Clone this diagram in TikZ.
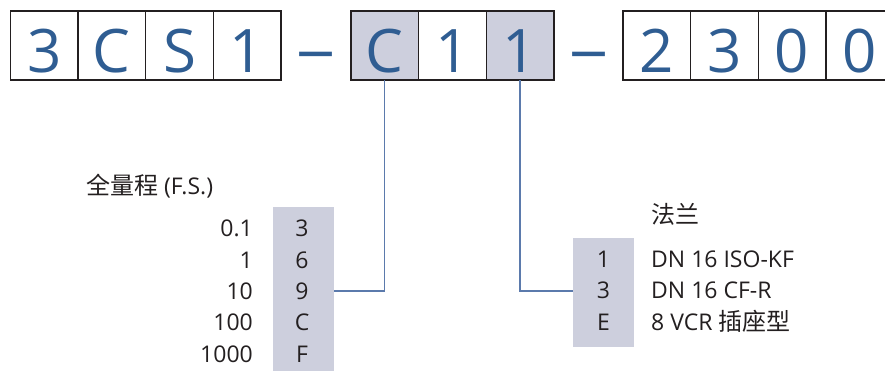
\documentclass[tikz,border=0pt]{standalone}
\usepackage{fontspec}
\setmainfont{Open Sans}
\newfontfamily\cjk{Noto Sans CJK SC}
\definecolor{codeblue}{HTML}{2F5D92}
\definecolor{cellgray}{HTML}{CDCFDD}
\definecolor{ink}{HTML}{231F20}
\definecolor{leader}{HTML}{5B7AAC}
\begin{document}
\begin{tikzpicture}[x=1pt,y=-1pt,
  cell/.style={draw=ink,line width=1.4pt,minimum width=67.6pt,minimum height=69pt,inner sep=0pt,outer sep=0pt},
  hcell/.style={cell,fill=cellgray},
  bigchar/.style={text=codeblue,font=\fontsize{60}{60}\selectfont,anchor=base,inner sep=0pt},
  tabtxt/.style={text=ink,font=\fontsize{23}{23}\selectfont,anchor=base,inner sep=0pt},
  keybox/.style={fill=cellgray,draw=none,inner sep=0pt,outer sep=0pt},
  leaderline/.style={draw=leader,line width=1.3pt}]
\useasboundingbox (0,0) rectangle (885,371);
\clip (0,0) rectangle (885,371);
% code cells
\foreach \i/\x/\c/\s in {a/44.3/3/cell,b/111.9/C/cell,c/179.5/S/cell,d/247.1/1/cell,
    e/384.8/C/hcell,f/452.4/1/cell,g/520.0/1/hcell,
    h/656.8/2/cell,k/724.4/3/cell,m/792.0/0/cell,n/859.6/0/cell}{
  \node[\s] (\i) at (\x,45.5) {};
  \node[bigchar] (t\i) at (\x,73) {\c};
}
\node[bigchar,xscale=1.3] (dash1) at (315.5,71) {–};
\node[bigchar,xscale=1.3] (dash2) at (588.5,71) {–};
% full-scale table
\node[anchor=base west,text=ink,font=\fontsize{23}{23}\selectfont,inner sep=0pt] (fstitle) at (86,195) {{\cjk\fontsize{24}{24}\selectfont 全量程} (F.S.)};
\node[keybox,minimum width=61pt,minimum height=170pt,anchor=north west] (fsbox) at (273,207) {};
\foreach \k/\v/\y in {1/0.1/236.5,2/1/268,3/10/299.3,4/100/330.6,5/1000/362}{
  \node[tabtxt,anchor=base east] (fsv\k) at (253,\y) {\v};
}
\foreach \k/\v/\y in {1/3/236.5,2/6/268,3/9/299.3,4/C/330.6,5/F/362}{
  \node[tabtxt] (fsc\k) at (302,\y) {\v};
}
% flange table
\node[anchor=base west,text=ink,font=\fontsize{24}{24}\cjk,inner sep=0pt] (fltitle) at (651,224) {法兰};
\node[keybox,minimum width=61pt,minimum height=109pt,anchor=north west] (flbox) at (573,238) {};
\foreach \k/\v/\y in {1/1/267,2/3/298.5,3/E/330}{
  \node[tabtxt] (flc\k) at (603.5,\y) {\v};
}
\node[tabtxt,anchor=base west] (flv1) at (651,267) {DN 16 ISO-KF};
\node[tabtxt,anchor=base west] (flv2) at (651,298.5) {DN 16 CF-R};
\node[tabtxt,anchor=base west] (flv3) at (651,330) {8 VCR {\cjk\fontsize{24}{24}\selectfont 插座型}};
% leader lines
\coordinate (fsrow) at (fsbox.east |- 0,291);
\coordinate (flrow) at (flbox.west |- 0,291);
\draw[leaderline] (e.south) |- (fsrow);
\draw[leaderline] (g.south) |- (flrow);
\end{tikzpicture}
\end{document}
